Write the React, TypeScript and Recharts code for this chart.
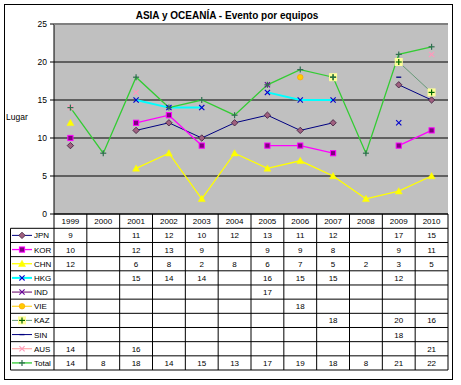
import React from 'react';
import { LineChart, Line, XAxis, YAxis, CartesianGrid } from 'recharts';

const years = ['1999', '2000', '2001', '2002', '2003', '2004', '2005', '2006', '2007', '2008', '2009', '2010'];
const JPN = [9, null, 11, 12, 10, 12, 13, 11, 12, null, 17, 15];
const KOR = [10, null, 12, 13, 9, null, 9, 9, 8, null, 9, 11];
const CHN = [12, null, 6, 8, 2, 8, 6, 7, 5, 2, 3, 5];
const HKG = [null, null, 15, 14, 14, null, 16, 15, 15, null, 12, null];
const IND = [null, null, null, null, null, null, 17, null, null, null, null, null];
const VIE = [null, null, null, null, null, null, null, 18, null, null, null, null];
const KAZ = [null, null, null, null, null, null, null, null, 18, null, 20, 16];
const SIN = [null, null, null, null, null, null, null, null, null, null, 18, null];
const AUS = [14, null, 16, null, null, null, null, null, null, null, null, 21];
const TOTAL = [14, 8, 18, 14, 15, 13, 17, 19, 18, 8, 21, 22];
const yTicks = [0, 5, 10, 15, 20, 25];

const seriesValues: Record<string, (number | null)[]> = { JPN, KOR, CHN, HKG, IND, VIE, KAZ, SIN, AUS, Total: TOTAL };

type Style = { key: string; color: string; width: number; marker: string; mFill: string; mStroke: string };
const styles: Style[] = [
  { key: 'JPN', color: '#000080', width: 1, marker: 'diamond', mFill: '#A0607F', mStroke: '#3A1A3A' },
  { key: 'KOR', color: '#FF00FF', width: 1.3, marker: 'square', mFill: '#800080', mStroke: '#FF00FF' },
  { key: 'CHN', color: '#FFFF00', width: 1.3, marker: 'triangle', mFill: '#FFFF00', mStroke: '#FFFF00' },
  { key: 'HKG', color: '#00FFFF', width: 2, marker: 'x', mFill: 'none', mStroke: '#0000CC' },
  { key: 'IND', color: '#660066', width: 1, marker: 'x', mFill: 'none', mStroke: '#660099' },
  { key: 'VIE', color: '#FFCC00', width: 1, marker: 'circle', mFill: '#FFCC00', mStroke: '#FF9900' },
  { key: 'KAZ', color: '#669977', width: 1, marker: 'plusbox', mFill: '#FFFF99', mStroke: '#006600' },
  { key: 'SIN', color: '#000080', width: 1, marker: 'dash', mFill: 'none', mStroke: '#000080' },
  { key: 'AUS', color: '#FF9999', width: 1, marker: 'x', mFill: 'none', mStroke: '#FF99BB' },
  { key: 'Total', color: '#33CC33', width: 1.3, marker: 'plus', mFill: 'none', mStroke: '#2F6F4F' },
];

const data = years.map((y, i) => {
  const row: Record<string, any> = { year: y };
  styles.forEach((s) => { row[s.key] = seriesValues[s.key][i]; });
  return row;
});

const W = 461, H = 385;
const PLOT_L = 54, PLOT_R = 448, PLOT_T = 24, PLOT_B = 214;
const COL = (PLOT_R - PLOT_L) / 12;
const ROW_TOP = 228.3, ROW_H = 14.17;
const FONT = '"Liberation Sans", Arial, sans-serif';

function marker(s: Style, cx: number, cy: number, key?: string) {
  const st = s.mStroke;
  switch (s.marker) {
    case 'diamond':
      return <polygon key={key} points={`${cx},${cy - 3.2} ${cx + 3.2},${cy} ${cx},${cy + 3.2} ${cx - 3.2},${cy}`} fill={s.mFill} stroke={st} strokeWidth={0.8} />;
    case 'square':
      return <rect key={key} x={cx - 2.6} y={cy - 2.6} width={5.2} height={5.2} fill={s.mFill} stroke={st} strokeWidth={1} />;
    case 'triangle':
      return <polygon key={key} points={`${cx},${cy - 3.5} ${cx + 3.5},${cy + 2.8} ${cx - 3.5},${cy + 2.8}`} fill={s.mFill} stroke={st} strokeWidth={0.5} />;
    case 'x':
      return (
        <g key={key} stroke={st} strokeWidth={1.1}>
          <line x1={cx - 2.6} y1={cy - 2.6} x2={cx + 2.6} y2={cy + 2.6} />
          <line x1={cx - 2.6} y1={cy + 2.6} x2={cx + 2.6} y2={cy - 2.6} />
        </g>
      );
    case 'circle':
      return <circle key={key} cx={cx} cy={cy} r={2.8} fill={s.mFill} stroke={st} strokeWidth={0.6} />;
    case 'plusbox':
      return (
        <g key={key}>
          <rect x={cx - 4} y={cy - 4} width={8} height={8} fill={s.mFill} stroke="none" />
          <g stroke={st} strokeWidth={1.2}>
            <line x1={cx - 3} y1={cy} x2={cx + 3} y2={cy} />
            <line x1={cx} y1={cy - 3} x2={cx} y2={cy + 3} />
          </g>
        </g>
      );
    case 'plus':
      return (
        <g key={key} stroke={st} strokeWidth={1.2}>
          <line x1={cx - 3} y1={cy} x2={cx + 3} y2={cy} />
          <line x1={cx} y1={cy - 3} x2={cx} y2={cy + 3} />
        </g>
      );
    case 'dash':
      return <line key={key} x1={cx - 2.5} y1={cy} x2={cx + 2.5} y2={cy} stroke={st} strokeWidth={1.3} />;
    default:
      return <g key={key} />;
  }
}

function makeDot(s: Style) {
  return (props: any) => {
    const { cx, cy, index, value } = props;
    const k = `${s.key}-dot-${index}`;
    if (value == null || cx == null || cy == null || isNaN(cx) || isNaN(cy)) return <g key={k} />;
    return marker(s, cx, cy, k);
  };
}

function TableTick(props: any) {
  const { x, payload, index } = props;
  const left = x - COL / 2;
  const right = x + COL / 2;
  return (
    <g>
      {index === 0 && <line x1={left} y1={PLOT_B} x2={left} y2={ROW_TOP + ROW_H * 10} stroke="#000" strokeWidth={1} />}
      <line x1={right} y1={PLOT_B} x2={right} y2={ROW_TOP + ROW_H * 10} stroke="#000" strokeWidth={1} />
      <text x={x} y={(PLOT_B + ROW_TOP) / 2 + 0.5} textAnchor="middle" dominantBaseline="central" fontSize={8} fontFamily={FONT} fill="#000">
        {payload.value}
      </text>
      {styles.map((s, r) => {
        const v = seriesValues[s.key][index];
        if (v == null) return null;
        return (
          <text key={s.key} x={x} y={ROW_TOP + ROW_H * r + ROW_H / 2 + 0.5} textAnchor="middle" dominantBaseline="central" fontSize={8} fontFamily={FONT} fill="#000">
            {v}
          </text>
        );
      })}
    </g>
  );
}

export default function App() {
  return (
    <div style={{ position: 'absolute', left: 0, top: 0, width: W, height: H, background: '#fff' }}>
      <LineChart width={W} height={H} data={data} margin={{ top: PLOT_T, right: W - PLOT_R, bottom: 0, left: 0 }}>
        <CartesianGrid vertical={false} stroke="#000" fill="#C0C0C0" fillOpacity={1} />
        <XAxis
          dataKey="year"
          height={H - PLOT_B}
          padding={{ left: COL / 2, right: COL / 2 }}
          interval={0}
          tickLine={false}
          axisLine={{ stroke: '#000' }}
          tick={<TableTick />}
        />
        <YAxis
          width={PLOT_L}
          domain={[0, 25]}
          ticks={yTicks}
          interval={0}
          tickSize={4}
          tickMargin={3}
          axisLine={{ stroke: '#000' }}
          tickLine={{ stroke: '#000' }}
          tick={{ fontSize: 8.5, fontFamily: FONT, fill: '#000' }}
        />
        {styles.map((s) => (
          <Line
            key={s.key}
            dataKey={s.key}
            stroke={s.color}
            strokeWidth={s.width}
            dot={makeDot(s)}
            activeDot={false}
            isAnimationActive={false}
            type="linear"
          />
        ))}
      </LineChart>
      <svg width={W} height={H} style={{ position: 'absolute', left: 0, top: 0, pointerEvents: 'none' }}>
        <rect x={4.5} y={4.5} width={448} height={375} fill="none" stroke="#000" strokeWidth={1} />
        <line x1={PLOT_L} y1={PLOT_T + 0.5} x2={PLOT_R} y2={PLOT_T + 0.5} stroke="#808080" strokeWidth={1} />
        <text x={227} y={15} textAnchor="middle" dominantBaseline="central" fontSize={10} fontWeight="bold" fontFamily={FONT} fill="#000">
          ASIA y OCEANÍA - Evento por equipos
        </text>
        <text x={6} y={117} dominantBaseline="central" fontSize={8.5} fontFamily={FONT} fill="#000">Lugar</text>
        {Array.from({ length: 11 }).map((_, k) => (
          <line key={k} x1={10.5} y1={ROW_TOP + ROW_H * k} x2={PLOT_R} y2={ROW_TOP + ROW_H * k} stroke="#000" strokeWidth={1} />
        ))}
        <line x1={10.5} y1={ROW_TOP} x2={10.5} y2={ROW_TOP + ROW_H * 10} stroke="#000" strokeWidth={1} />
        {styles.map((s, r) => {
          const cy = ROW_TOP + ROW_H * r + ROW_H / 2;
          return (
            <g key={s.key}>
              <line x1={12} y1={cy} x2={32} y2={cy} stroke={s.color} strokeWidth={s.width} />
              {marker(s, 22, cy)}
              <text x={34} y={cy + 0.5} dominantBaseline="central" fontSize={8} fontFamily={FONT} fill="#000">{s.key}</text>
            </g>
          );
        })}
      </svg>
    </div>
  );
}
